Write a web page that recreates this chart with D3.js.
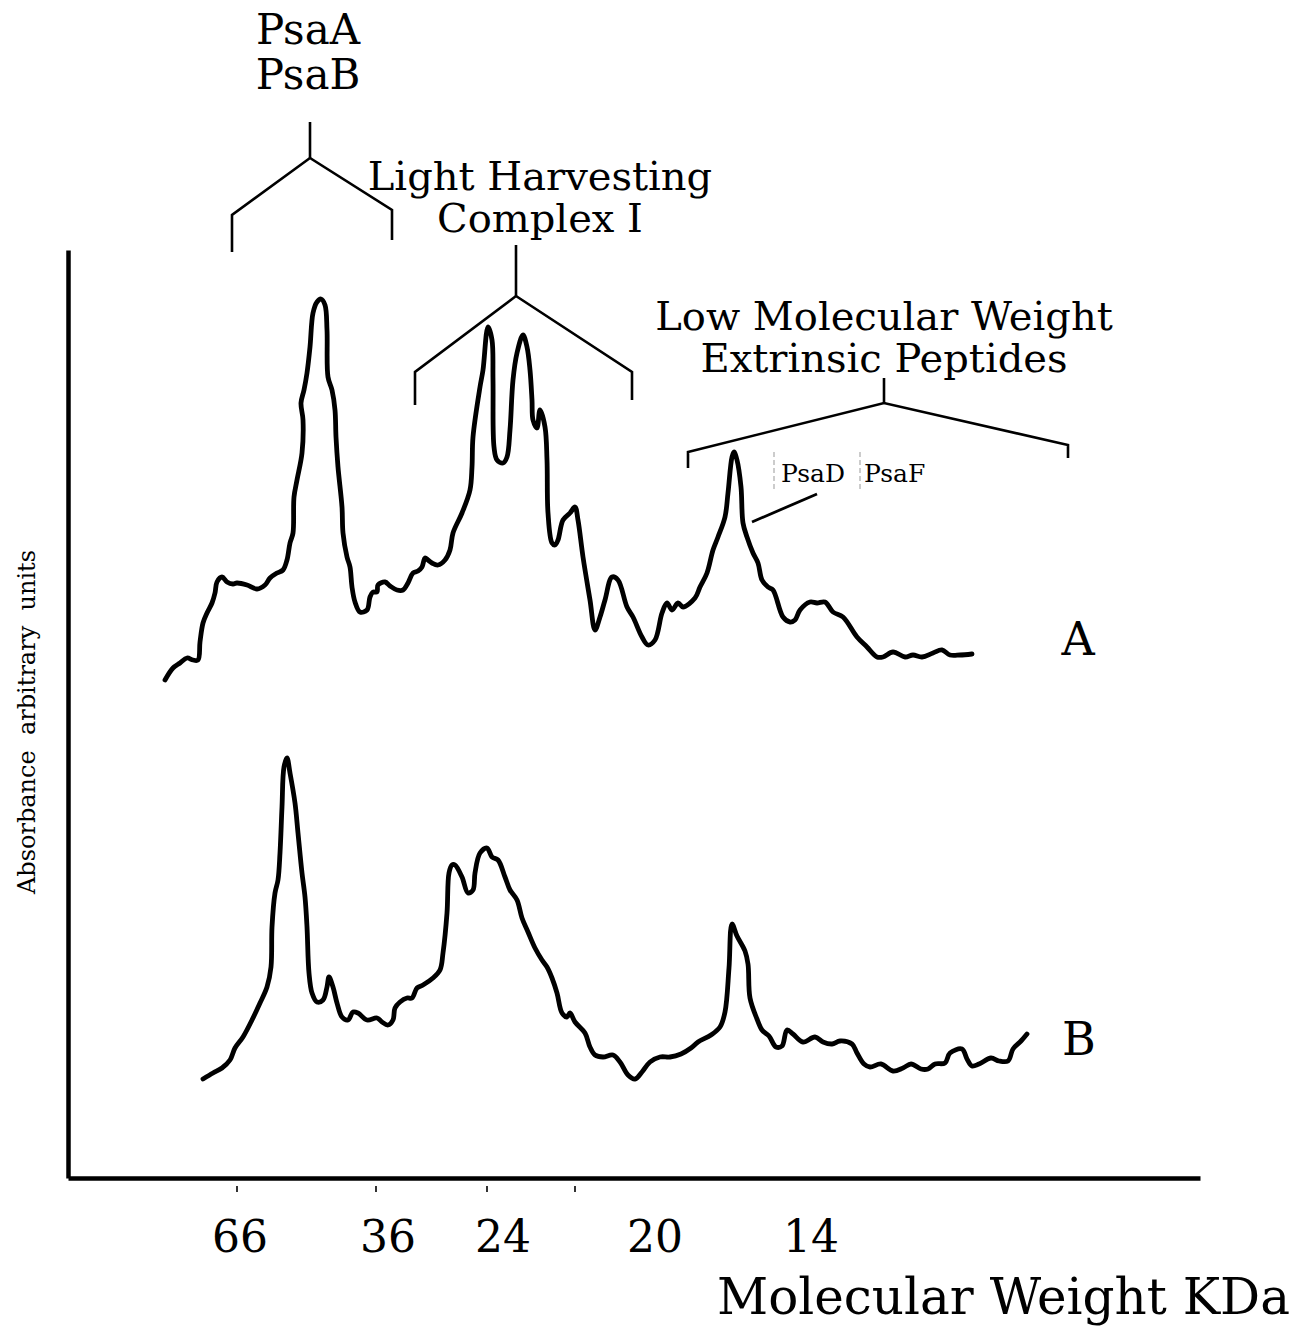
<!DOCTYPE html>
<html>
<head>
<meta charset="utf-8">
<script src="https://cdn.jsdelivr.net/npm/d3@7"></script>
<style>
  html, body { margin: 0; padding: 0; background: #fff; }
  svg { display: block; }
  text { font-family: "DejaVu Serif", "Liberation Serif", serif; fill: #000; }
</style>
</head>
<body>
<div id="chart"></div>
<script>
// Densitometer scans of PSI polypeptides separated by SDS-PAGE.
// x: migration distance (mm), y: absorbance (arbitrary units).

// Trace A: [distance, absorbance]
const traceA = [
  [9.7,49.8],[10.5,51.0],[11.2,51.5],[11.9,52.0],[12.5,51.8],[13.0,51.8],[13.2,53.6],[13.5,55.5],
  [13.9,56.5],[14.4,57.5],[14.7,58.5],[14.9,59.6],[15.4,60.1],[15.9,59.6],[16.5,59.4],[16.9,59.5],
  [17.9,59.3],[18.9,58.9],[19.7,59.3],[20.2,60.0],[20.9,60.5],[21.5,60.8],[21.9,61.8],[22.2,63.5],
  [22.5,64.5],[22.6,68.1],[22.9,69.8],[23.4,72.5],[23.5,75.8],[23.3,77.5],[23.6,78.8],[23.9,80.5],
  [24.2,83.1],[24.5,86.5],[24.9,87.6],[25.3,87.9],[25.7,87.3],[25.9,84.8],[26.0,80.1],[26.4,78.8],
  [26.7,76.8],[26.8,74.1],[27.0,71.1],[27.4,67.1],[27.5,64.5],[27.9,62.1],[28.2,61.1],[28.4,59.1],
  [28.7,57.6],[29.2,56.6],[29.9,56.8],[30.2,58.1],[30.5,58.6],[30.9,58.6],[31.0,59.3],[31.7,59.6],
  [32.2,59.2],[32.9,58.8],[33.5,58.8],[34.0,59.5],[34.5,60.5],[35.0,60.7],[35.4,61.1],[35.7,62.0],
  [36.0,61.8],[36.4,61.5],[37.0,61.3],[37.7,61.8],[38.2,62.8],[38.5,64.5],[39.4,66.5],[40.2,68.8],
  [40.4,71.1],[40.5,74.1],[41.2,79.1],[41.5,80.8],[42.0,85.1],[42.4,83.8],[42.5,79.8],[42.6,73.1],
  [42.9,71.8],[43.5,71.5],[43.9,72.1],[44.2,74.8],[44.5,79.8],[44.9,82.5],[45.5,84.3],[45.9,83.1],
  [46.2,80.8],[46.4,77.8],[46.5,75.8],[46.9,75.0],[47.2,76.8],[47.7,75.1],[47.9,71.8],[48.0,66.5],
  [48.4,63.5],[48.7,63.3],[49.0,63.8],[49.5,65.8],[50.2,66.5],[50.7,67.1],[51.0,65.8],[51.5,62.1],
  [52.2,57.8],[52.7,54.8],[53.2,56.1],[53.7,57.8],[54.4,60.1],[55.0,59.8],[55.9,57.1],[56.5,56.1],
  [57.4,54.1],[58.0,53.3],[58.7,53.8],[59.4,56.5],[59.9,57.5],[60.4,56.8],[61.0,57.5],[61.5,57.1],
  [62.7,58.0],[63.2,59.1],[63.9,60.5],[64.5,62.8],[65.0,64.1],[65.7,66.1],[66.0,68.5],[66.4,72.1],
  [66.6,72.6],[66.9,71.8],[67.3,69.1],[67.5,65.5],[67.9,64.1],[68.5,62.5],[69.0,61.5],[69.4,59.8],
  [70.0,59.1],[70.5,58.8],[71.5,56.1],[72.2,55.6],[72.7,55.8],[73.2,56.8],[74.2,57.6],[74.9,57.5],
  [75.7,57.6],[76.5,56.6],[77.5,56.1],[78.9,54.1],[79.9,53.1],[80.9,52.1],[81.5,52.1],[82.5,52.6],
  [83.7,52.1],[84.5,52.3],[85.4,52.1],[86.5,52.5],[87.4,52.8],[88.2,52.3],[89.2,52.3],[90.4,52.4]
];

// Trace B: [distance, absorbance]
const traceB = [
  [13.5,9.9],[14.5,10.5],[15.4,11.0],[16.2,11.8],[16.7,13.0],[17.5,14.1],[18.4,15.8],[19.2,17.5],
  [19.9,19.1],[20.3,21.1],[20.4,25.1],[20.7,28.5],[21.0,29.8],[21.2,32.5],[21.4,37.1],[21.6,41.1],
  [21.9,42.0],[22.2,40.5],[22.7,37.5],[23.0,34.5],[23.4,30.5],[23.7,28.1],[23.9,25.1],[24.1,20.5],
  [24.4,18.5],[24.9,17.6],[25.5,17.8],[25.9,19.1],[26.1,20.1],[26.5,19.1],[26.9,17.5],[27.4,16.1],
  [28.0,15.8],[28.5,16.6],[29.0,16.5],[29.9,15.8],[30.9,16.0],[31.4,15.6],[32.0,15.3],[32.5,15.8],
  [32.7,17.0],[33.2,17.6],[33.9,18.0],[34.4,18.0],[34.9,19.0],[35.5,19.3],[36.5,20.0],[37.2,20.8],
  [37.5,22.5],[37.9,26.5],[38.1,30.5],[38.4,31.3],[38.7,31.3],[39.4,30.1],[40.0,28.5],[40.5,28.8],
  [40.7,30.5],[41.2,32.5],[41.9,33.0],[42.4,32.1],[43.0,31.8],[43.7,30.1],[44.2,28.8],[44.9,27.8],
  [45.4,26.0],[46.0,24.6],[46.7,23.0],[47.4,21.8],[47.9,21.1],[48.4,20.0],[48.9,18.5],[49.4,16.5],
  [49.9,16.1],[50.2,16.5],[50.7,15.6],[51.7,14.5],[52.2,13.1],[52.7,12.3],[53.5,12.1],[54.5,12.3],
  [55.2,11.6],[56.0,10.3],[56.7,9.9],[57.4,10.6],[58.2,11.6],[59.2,12.1],[60.2,12.1],[61.3,12.4],
  [62.3,13.0],[63.0,13.6],[64.3,14.3],[65.2,15.1],[65.7,16.6],[66.1,21.0],[66.4,25.4],[66.9,24.2],
  [67.7,22.7],[68.0,21.4],[68.2,18.0],[68.9,15.9],[69.4,14.8],[70.1,14.2],[70.8,13.1],[71.4,13.2],
  [71.9,14.8],[72.5,14.4],[73.5,13.6],[74.7,14.1],[75.5,13.6],[76.4,13.4],[77.2,13.7],[78.4,13.4],
  [78.9,12.5],[79.6,11.4],[80.2,11.1],[81.3,11.4],[82.5,10.7],[83.5,11.0],[84.3,11.4],[85.3,10.9],
  [86.0,10.9],[86.7,11.4],[87.7,11.5],[88.2,12.5],[89.4,12.9],[89.9,11.9],[90.4,11.2],[91.1,11.4],
  [92.3,12.0],[93.1,11.7],[94.0,11.7],[94.5,12.9],[95.3,13.7],[95.9,14.4]
];

// Molecular weight markers: tick positions and label positions (distance, mm)
const markerTicks = [16.9, 30.8, 41.9, 50.7];
const markerLabels = ["66", "36", "24", "20", "14"];
const markerLabelPos = [17.2, 32.0, 43.5, 58.7, 74.3];

// Trace names and where they are written (distance, absorbance)
const traceNames = ["A", "B"];
const traceNamePos = [[101.0, 52.3], [101.1, 12.3]];

const width = 1309, height = 1329;
const margin = { top: 250, right: 109, bottom: 151, left: 68 };

const x = d3.scaleLinear().domain([0, 113.2]).range([margin.left, width - margin.right]);
const y = d3.scaleLinear().domain([0, 92.8]).range([height - margin.bottom, margin.top]);

const svg = d3.select("#chart").append("svg")
  .attr("width", width).attr("height", height)
  .attr("viewBox", [0, 0, width, height]);

// Axes (no numeric ticks; frame lines only)
svg.append("g")
  .attr("transform", `translate(0,${y(0)})`)
  .call(d3.axisBottom(x).tickValues([]).tickSizeOuter(0))
  .call(g => g.select(".domain").attr("stroke", "#000").attr("stroke-width", 4.5));

svg.append("g")
  .attr("transform", `translate(${x(0)},0)`)
  .call(d3.axisLeft(y).tickValues([]).tickSizeOuter(0))
  .call(g => g.select(".domain").attr("stroke", "#000").attr("stroke-width", 4.5));

// Small marker ticks under the x axis
svg.append("g").selectAll("line")
  .data(markerTicks).join("line")
  .attr("x1", d => x(d)).attr("x2", d => x(d))
  .attr("y1", y(0) + 8).attr("y2", y(0) + 14)
  .attr("stroke", "#000").attr("stroke-width", 1.6);

svg.append("g").selectAll("text")
  .data(markerLabels).join("text")
  .attr("x", (d, i) => x(markerLabelPos[i]))
  .attr("y", y(0) + 74)
  .attr("text-anchor", "middle")
  .attr("font-size", 44)
  .text(d => d);

// Axis titles
svg.append("text")
  .attr("x", 1290).attr("y", 1314)
  .attr("text-anchor", "end")
  .attr("font-size", 50)
  .text("Molecular Weight KDa");

svg.append("text")
  .attr("transform", `translate(35,${(y(0) + y(92.8)) / 2 + 8}) rotate(-90)`)
  .attr("text-anchor", "middle")
  .attr("font-size", 24)
  .attr("xml:space", "preserve")
  .style("white-space", "pre")
  .text("Absorbance  arbitrary  units");

// Traces
const line = d3.line()
  .x(d => x(d[0])).y(d => y(d[1]))
  .curve(d3.curveCatmullRom.alpha(0.5));

svg.append("g").selectAll("path")
  .data([traceA, traceB]).join("path")
  .attr("d", line)
  .attr("fill", "none")
  .attr("stroke", "#000")
  .attr("stroke-width", 4.8)
  .attr("stroke-linejoin", "round")
  .attr("stroke-linecap", "round");

svg.append("g").selectAll("text")
  .data(traceNames).join("text")
  .attr("x", (d, i) => x(traceNamePos[i][0]))
  .attr("y", (d, i) => y(traceNamePos[i][1]))
  .attr("text-anchor", "middle")
  .attr("font-size", 46)
  .text(d => d);

// Bracket annotations for polypeptide groups
// each: left leg (x, bottom, shoulder), apex (x, y), right leg (x, shoulder, bottom), stem top
const brackets = [
  { xl: 16.4, lb: 92.6, ls: 96.3, xa: 24.2, ya: 102.0, xr: 32.4, rs: 96.8, rb: 93.8, stem: 105.6,
    lines: ["PsaA", "PsaB"], tx: 24.0, ty: [113.4, 108.9], fs: 42 },
  { xl: 34.7, lb: 77.3, ls: 80.6, xa: 44.8, ya: 88.2, xr: 56.4, rs: 80.6, rb: 77.8, stem: 93.3,
    lines: ["Light Harvesting", "Complex I"], tx: 47.2, ty: [98.8, 94.6], fs: 40 },
  { xl: 62.0, lb: 71.0, ls: 72.6, xa: 81.6, ya: 77.5, xr: 100.0, rs: 73.3, rb: 72.0, stem: 80.0,
    lines: ["Low Molecular Weight", "Extrinsic Peptides"], tx: 81.6, ty: [84.8, 80.6], fs: 40 }
];

const bg = svg.append("g").attr("fill", "none").attr("stroke", "#000").attr("stroke-width", 2.6);
brackets.forEach(b => {
  const pts = [[b.xl, b.lb], [b.xl, b.ls], [b.xa, b.ya], [b.xr, b.rs], [b.xr, b.rb]];
  bg.append("path").attr("d", d3.line().x(d => x(d[0])).y(d => y(d[1]))(pts));
  bg.append("path").attr("d", d3.line().x(d => x(d[0])).y(d => y(d[1]))([[b.xa, b.ya], [b.xa, b.stem]]));
  // two-line label as one text block
  const t = svg.append("text")
    .attr("text-anchor", "middle")
    .attr("font-size", b.fs);
  b.lines.forEach((s, i) => {
    t.append("tspan")
      .attr("x", x(b.tx)).attr("y", y(b.ty[i]))
      .text(s);
  });
});

// PsaD / PsaF labels with faint separators and pointer line
const subLabels = ["PsaD", "PsaF"];
const subLabelX = [71.3, 79.6];
svg.append("g").selectAll("text")
  .data(subLabels).join("text")
  .attr("x", (d, i) => x(subLabelX[i]))
  .attr("y", y(69.6))
  .attr("font-size", 25)
  .text(d => d);

svg.append("g").selectAll("line")
  .data([70.6, 79.2]).join("line")
  .attr("x1", d => x(d)).attr("x2", d => x(d))
  .attr("y1", y(72.6)).attr("y2", y(68.6))
  .attr("stroke", "#999").attr("stroke-width", 1)
  .attr("stroke-dasharray", "5,3");

svg.append("line")
  .attr("x1", x(68.4)).attr("y1", y(65.6))
  .attr("x2", x(74.9)).attr("y2", y(68.4))
  .attr("stroke", "#000").attr("stroke-width", 2.8);
</script>
</body>
</html>
